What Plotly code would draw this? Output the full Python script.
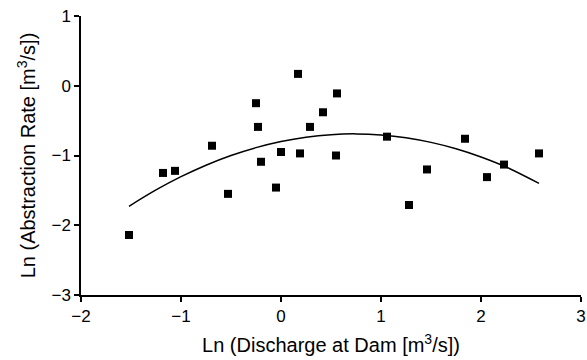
import plotly.graph_objects as go

ln_discharge = [-1.52, -1.18, -1.06, -0.69, -0.53, -0.25, -0.23, -0.20, -0.05, 0.00,
                0.17, 0.19, 0.29, 0.42, 0.55, 0.56, 1.06, 1.28, 1.46, 1.84, 2.06, 2.23, 2.58]
ln_abstraction = [-2.14, -1.25, -1.22, -0.86, -1.55, -0.25, -0.59, -1.09, -1.46, -0.95,
                  0.17, -0.97, -0.59, -0.38, -1.00, -0.11, -0.73, -1.71, -1.20, -0.76, -1.31, -1.13, -0.97]

# Fitted curve
fit_x = [-1.52, -1.25, -1.0, -0.75, -0.5, -0.25, 0.0, 0.25, 0.5, 0.75, 1.0, 1.25, 1.5, 1.75, 2.0, 2.25, 2.58]
fit_y = [-1.728, -1.494, -1.304, -1.139, -1.000, -0.887, -0.799, -0.737, -0.701, -0.690,
         -0.705, -0.745, -0.812, -0.903, -1.021, -1.164, -1.400]

x_ticks = [-2, -1, 0, 1, 2, 3]
y_ticks = [-3, -2, -1, 0, 1]

fig = go.Figure()
fig.add_trace(go.Scatter(x=fit_x, y=fit_y, mode="lines", line=dict(color="black", width=1.5, shape="spline"),
                         hoverinfo="skip"))
fig.add_trace(go.Scatter(x=ln_discharge, y=ln_abstraction, mode="markers",
                         marker=dict(symbol="square", size=8, color="black")))

font = dict(family="Liberation Sans, Arial, sans-serif", size=17, color="black")
fig.update_layout(
    width=587, height=360,
    margin=dict(l=81, r=6, t=16, b=65),
    paper_bgcolor="white", plot_bgcolor="white",
    showlegend=False,
    font=font,
    xaxis=dict(range=[-2, 3], tickvals=x_ticks, showgrid=False, zeroline=False,
               showline=True, linecolor="black", linewidth=1.5, automargin=False,
               ticks="outside", ticklen=5, tickwidth=1.5, tickcolor="black",
               title=dict(text="Ln (Discharge at Dam [m<sup>3</sup>/s])", standoff=13),
               tickfont=font),
    yaxis=dict(range=[-3, 1], tickvals=y_ticks, showgrid=False, zeroline=False,
               showline=True, linecolor="black", linewidth=1.5, automargin=False,
               ticks="outside", ticklen=5, tickwidth=1.5, tickcolor="black",
               title=dict(text="Ln (Abstraction Rate [m<sup>3</sup>/s])", standoff=10),
               tickfont=font),
)
fig.write_html("out.html")
